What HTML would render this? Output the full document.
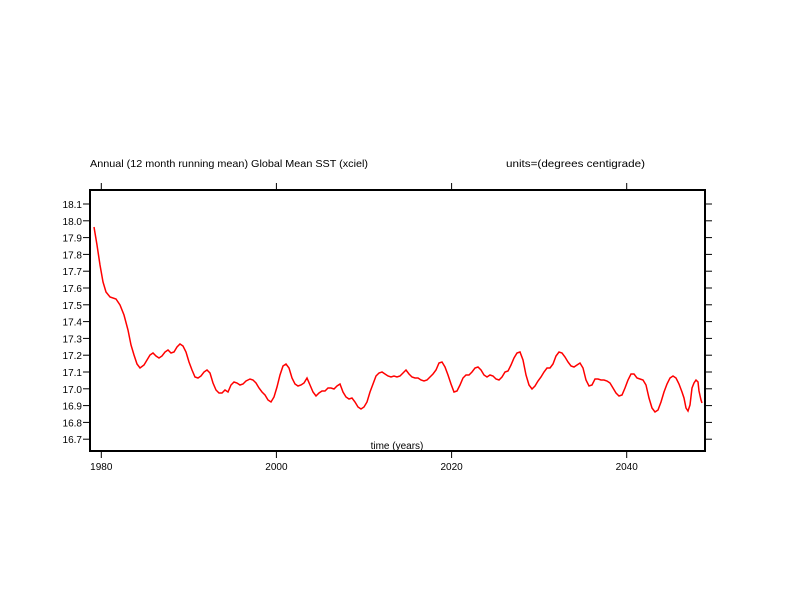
<!DOCTYPE html>
<html><head><meta charset="utf-8"><style>body{margin:0;background:#fff}svg{display:block}text{font-family:"Liberation Sans",sans-serif;font-size:10px;fill:#000}</style></head><body>
<svg width="792" height="612" viewBox="0 0 792 612" xmlns="http://www.w3.org/2000/svg">
<text x="90" y="167" style="font-size:10.5px" textLength="278" lengthAdjust="spacingAndGlyphs">Annual (12 month running mean) Global Mean SST (xciel)</text>
<text x="506" y="167" style="font-size:10.5px" textLength="139" lengthAdjust="spacingAndGlyphs">units=(degrees centigrade)</text>
<rect x="90" y="190" width="615" height="261" fill="none" stroke="#000" stroke-width="2"/>
<g stroke="#000" stroke-width="1">
<line x1="101.3" y1="183" x2="101.3" y2="190"/><line x1="276.4" y1="183" x2="276.4" y2="190"/><line x1="451.6" y1="183" x2="451.6" y2="190"/><line x1="626.7" y1="183" x2="626.7" y2="190"/>
<line x1="101.3" y1="451" x2="101.3" y2="458"/><line x1="276.4" y1="451" x2="276.4" y2="458"/><line x1="451.6" y1="451" x2="451.6" y2="458"/><line x1="626.7" y1="451" x2="626.7" y2="458"/>
<g id="yt">
<line x1="83" y1="204" x2="90" y2="204"/><line x1="83" y1="220.8" x2="90" y2="220.8"/><line x1="83" y1="237.6" x2="90" y2="237.6"/><line x1="83" y1="254.4" x2="90" y2="254.4"/><line x1="83" y1="271.2" x2="90" y2="271.2"/><line x1="83" y1="288" x2="90" y2="288"/><line x1="83" y1="304.8" x2="90" y2="304.8"/><line x1="83" y1="321.6" x2="90" y2="321.6"/><line x1="83" y1="338.4" x2="90" y2="338.4"/><line x1="83" y1="355.2" x2="90" y2="355.2"/><line x1="83" y1="372" x2="90" y2="372"/><line x1="83" y1="388.8" x2="90" y2="388.8"/><line x1="83" y1="405.6" x2="90" y2="405.6"/><line x1="83" y1="422.4" x2="90" y2="422.4"/><line x1="83" y1="439.2" x2="90" y2="439.2"/>
</g>
<use href="#yt" transform="translate(622,0)"/>
</g>
<g text-anchor="end">
<text x="82" y="208">18.1</text><text x="82" y="224.8">18.0</text><text x="82" y="241.6">17.9</text><text x="82" y="258.4">17.8</text><text x="82" y="275.2">17.7</text><text x="82" y="292">17.6</text><text x="82" y="308.8">17.5</text><text x="82" y="325.6">17.4</text><text x="82" y="342.4">17.3</text><text x="82" y="359.2">17.2</text><text x="82" y="376">17.1</text><text x="82" y="392.8">17.0</text><text x="82" y="409.6">16.9</text><text x="82" y="426.4">16.8</text><text x="82" y="443.2">16.7</text>
</g>
<g text-anchor="middle">
<text x="101.3" y="470">1980</text><text x="276.4" y="470">2000</text><text x="451.6" y="470">2020</text><text x="626.7" y="470">2040</text>
<text x="397" y="449">time (years)</text>
</g>
<polyline fill="none" stroke="#f00" stroke-width="1.5" points="94,227 97,245 100,265 103,282 106,292 110,297 116,299 120,305 124,315 128,330 131,345 134,355 137,364 140,368 144,365 147,360 150,355 153,353 156,356 159,358 162,356 165,352 168,350 171,353 174,352 177,347 180,344 183,346 186,352 189,362 192,370 195,377 198,378 201,376 204,372 207,370 210,373 213,383 216,390 219,393 222,393 225,390 228,392 231,385 234,382 237,383 240,385 243,384 246,381 250,379 253,380 256,383 259,388 262,392 265,395 268,400 271,402 274,397 277,387 280,375 283,366 286,364 289,368 292,378 295,384 298,386 301,385 304,383 307,378 310,385 313,392 316,396 319,393 322,391 325,391 328,388 331,388 334,389 337,386 340,384 343,392 346,397 349,399 352,398 355,402 358,407 361,409 364,407 367,402 370,392 373,384 376,376 379,373 382,372 385,374 388,376 391,377 394,376 397,377 400,376 403,373 406,370 409,374 412,377 415,378 418,378 421,380 424,381 427,380 430,377 433,374 436,370 439,363 442,362 445,367 448,375 451,384 454,392 457,391 460,385 463,378 466,375 469,375 472,372 475,368 478,367 481,370 484,375 487,377 490,375 493,376 496,379 499,380 502,377 505,372 508,371 511,365 514,358 517,353 520,352 523,360 526,375 529,385 532,389 535,386 538,381 541,377 544,372 547,368 550,368 553,364 556,356 559,352 562,353 565,357 568,362 571,366 574,367 577,365 580,363 583,368 586,380 589,386 592,385 595,379 598,379 601,380 604,380 607,381 610,383 613,388 616,393 619,396 622,395 625,388 628,380 631,374 634,374 637,378 640,379 643,380 646,385 649,398 652,408 655,412 658,410 661,402 664,392 667,384 670,378 673,376 676,378 679,384 682,392 684,398 686,408 688,411 690,405 692,388 694,383 696,380 698,382 699,391 701,400 702,403"/>
</svg>
</body></html>
